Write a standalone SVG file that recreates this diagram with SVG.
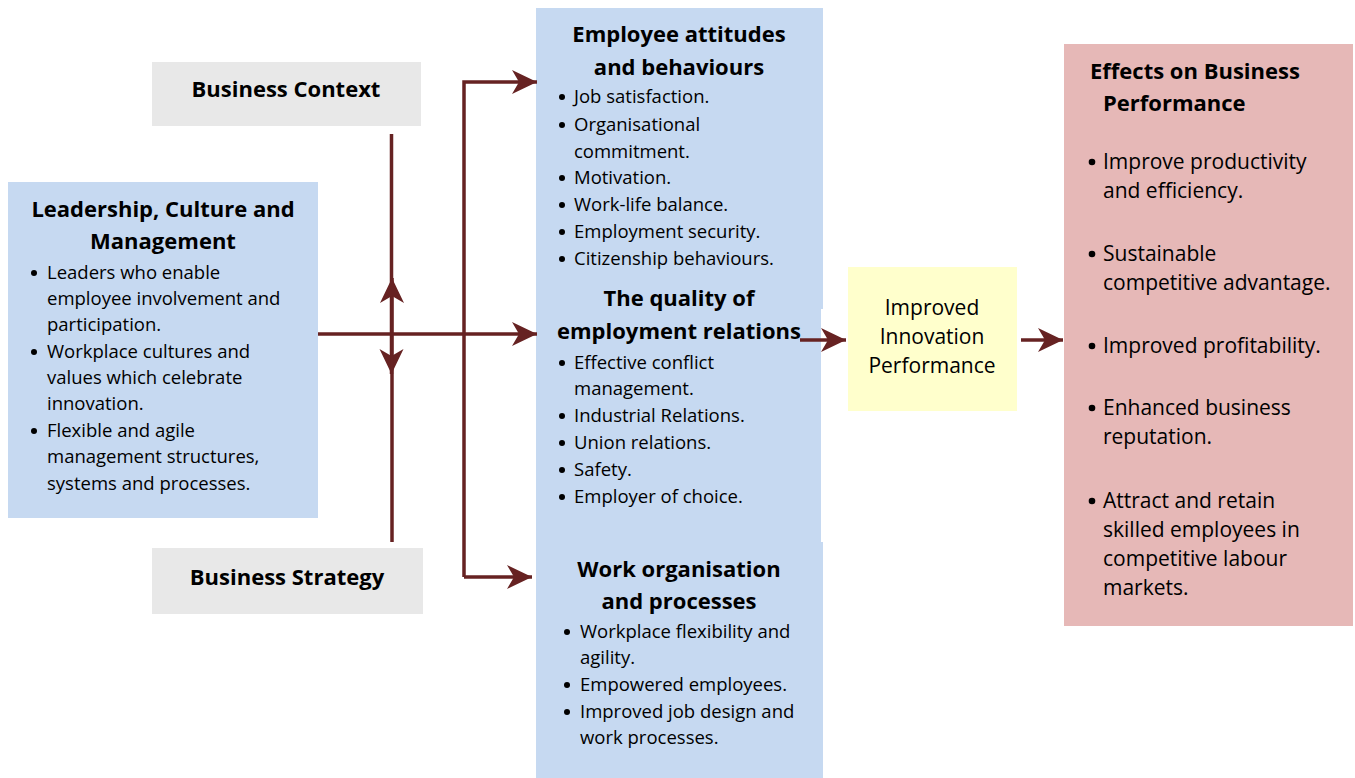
<svg xmlns="http://www.w3.org/2000/svg" width="1355" height="778" viewBox="0 0 1355 778">
  <style>
    text { font-family: "Open Sans", "Liberation Sans", Arial, sans-serif; fill: #000; }
    .title { font-weight: bold; font-size: 22px; text-anchor: middle; }
    .head { font-weight: bold; font-size: 22px; }
    .item { font-size: 18.5px; }
    .big { font-size: 21px; }
    .mid { text-anchor: middle; }
    .dot { fill: #000; }
    .conn { stroke: #662222; stroke-width: 3.5; fill: none; }
  </style>
  <defs>
    <marker id="arrow" viewBox="0 0 26 26" refX="25" refY="13" markerWidth="26" markerHeight="26" markerUnits="userSpaceOnUse" orient="auto">
      <path d="M0,1 L25,13 L0,25 L7,13 Z" fill="#662222"/>
    </marker>
  </defs>
  <rect width="1355" height="778" fill="#ffffff"/>

  <!-- Business context -->
  <g id="business-context">
    <rect x="152" y="62" width="269" height="64" fill="#e8e8e8"/>
    <text class="title" x="286" y="97">Business Context</text>
  </g>

  <!-- Leadership, culture and management -->
  <g id="leadership">
    <rect x="8" y="182" width="310" height="336" fill="#c6d9f1"/>
    <text class="title" x="163" y="217">Leadership, Culture and</text>
    <text class="title" x="163" y="249">Management</text>
    <circle class="dot" cx="34" cy="273" r="3"/>
    <text class="item" x="47" y="279">Leaders who enable</text>
    <text class="item" x="47" y="305">employee involvement and</text>
    <text class="item" x="47" y="331">participation.</text>
    <circle class="dot" cx="34" cy="352" r="3"/>
    <text class="item" x="47" y="358">Workplace cultures and</text>
    <text class="item" x="47" y="384">values which celebrate</text>
    <text class="item" x="47" y="410">innovation.</text>
    <circle class="dot" cx="34" cy="431" r="3"/>
    <text class="item" x="47" y="437">Flexible and agile</text>
    <text class="item" x="47" y="463">management structures,</text>
    <text class="item" x="47" y="490">systems and processes.</text>
  </g>

  <!-- Business strategy -->
  <g id="business-strategy">
    <rect x="152" y="548" width="271" height="66" fill="#e8e8e8"/>
    <text class="title" x="287" y="585">Business Strategy</text>
  </g>

  <!-- Employee attitudes and behaviours -->
  <g id="employee-attitudes">
    <rect x="536" y="8" width="287" height="301" fill="#c6d9f1"/>
    <text class="title" x="679" y="42">Employee attitudes</text>
    <text class="title" x="679" y="75">and behaviours</text>
    <circle class="dot" cx="562" cy="97" r="3"/>
    <text class="item" x="574" y="103">Job satisfaction.</text>
    <circle class="dot" cx="562" cy="125" r="3"/>
    <text class="item" x="574" y="131">Organisational</text>
    <text class="item" x="574" y="158">commitment.</text>
    <circle class="dot" cx="562" cy="178" r="3"/>
    <text class="item" x="574" y="184">Motivation.</text>
    <circle class="dot" cx="562" cy="205" r="3"/>
    <text class="item" x="574" y="211">Work-life balance.</text>
    <circle class="dot" cx="562" cy="232" r="3"/>
    <text class="item" x="574" y="238">Employment security.</text>
    <circle class="dot" cx="562" cy="259" r="3"/>
    <text class="item" x="574" y="265">Citizenship behaviours.</text>
  </g>

  <!-- Quality of employment relations -->
  <g id="employment-relations">
    <rect x="536" y="309" width="285" height="233" fill="#c6d9f1"/>
    <text class="title" x="679" y="306">The quality of</text>
    <text class="title" x="679" y="339">employment relations</text>
    <circle class="dot" cx="562" cy="363" r="3"/>
    <text class="item" x="574" y="369">Effective conflict</text>
    <text class="item" x="574" y="395">management.</text>
    <circle class="dot" cx="562" cy="416" r="3"/>
    <text class="item" x="574" y="422">Industrial Relations.</text>
    <circle class="dot" cx="562" cy="443" r="3"/>
    <text class="item" x="574" y="449">Union relations.</text>
    <circle class="dot" cx="562" cy="470" r="3"/>
    <text class="item" x="574" y="476">Safety.</text>
    <circle class="dot" cx="562" cy="497" r="3"/>
    <text class="item" x="574" y="503">Employer of choice.</text>
  </g>

  <!-- Work organisation and processes -->
  <g id="work-organisation">
    <rect x="536" y="542" width="287" height="236" fill="#c6d9f1"/>
    <text class="title" x="679" y="577">Work organisation</text>
    <text class="title" x="679" y="609">and processes</text>
    <circle class="dot" cx="567" cy="632" r="3"/>
    <text class="item" x="580" y="638">Workplace flexibility and</text>
    <text class="item" x="580" y="664">agility.</text>
    <circle class="dot" cx="567" cy="685" r="3"/>
    <text class="item" x="580" y="691">Empowered employees.</text>
    <circle class="dot" cx="567" cy="712" r="3"/>
    <text class="item" x="580" y="718">Improved job design and</text>
    <text class="item" x="580" y="744">work processes.</text>
  </g>

  <!-- Improved innovation performance -->
  <g id="innovation">
    <rect x="848" y="267" width="169" height="144" fill="#ffffcc"/>
    <text class="big mid" x="932" y="315">Improved</text>
    <text class="big mid" x="932" y="344">Innovation</text>
    <text class="big mid" x="932" y="373">Performance</text>
  </g>

  <!-- Effects on business performance -->
  <g id="business-effects">
    <rect x="1064" y="44" width="289" height="582" fill="#e6b8b7"/>
    <text class="head" x="1090" y="79">Effects on Business</text>
    <text class="head" x="1103" y="111">Performance</text>
    <circle class="dot" cx="1092" cy="162" r="3.3"/>
    <text class="big" x="1103" y="169">Improve productivity</text>
    <text class="big" x="1103" y="198">and efficiency.</text>
    <circle class="dot" cx="1092" cy="254" r="3.3"/>
    <text class="big" x="1103" y="261">Sustainable</text>
    <text class="big" x="1103" y="290">competitive advantage.</text>
    <circle class="dot" cx="1092" cy="346" r="3.3"/>
    <text class="big" x="1103" y="353">Improved profitability.</text>
    <circle class="dot" cx="1092" cy="408" r="3.3"/>
    <text class="big" x="1103" y="415">Enhanced business</text>
    <text class="big" x="1103" y="444">reputation.</text>
    <circle class="dot" cx="1092" cy="501" r="3.3"/>
    <text class="big" x="1103" y="508">Attract and retain</text>
    <text class="big" x="1103" y="537">skilled employees in</text>
    <text class="big" x="1103" y="566">competitive labour</text>
    <text class="big" x="1103" y="595">markets.</text>
  </g>

  <!-- Connectors -->
  <g id="connectors">
    <line class="conn" x1="391.5" y1="134" x2="391.5" y2="374" marker-end="url(#arrow)"/>
    <line class="conn" x1="392" y1="542" x2="392" y2="278" marker-end="url(#arrow)"/>
    <line class="conn" x1="318" y1="334" x2="537" y2="334" marker-end="url(#arrow)"/>
    <polyline class="conn" points="464,577 464,82 537,82" marker-end="url(#arrow)"/>
    <line class="conn" x1="464" y1="577" x2="532" y2="577" marker-end="url(#arrow)"/>
    <line class="conn" x1="800" y1="340" x2="846" y2="340" marker-end="url(#arrow)"/>
    <line class="conn" x1="1021" y1="340" x2="1063" y2="340" marker-end="url(#arrow)"/>
  </g>
</svg>
